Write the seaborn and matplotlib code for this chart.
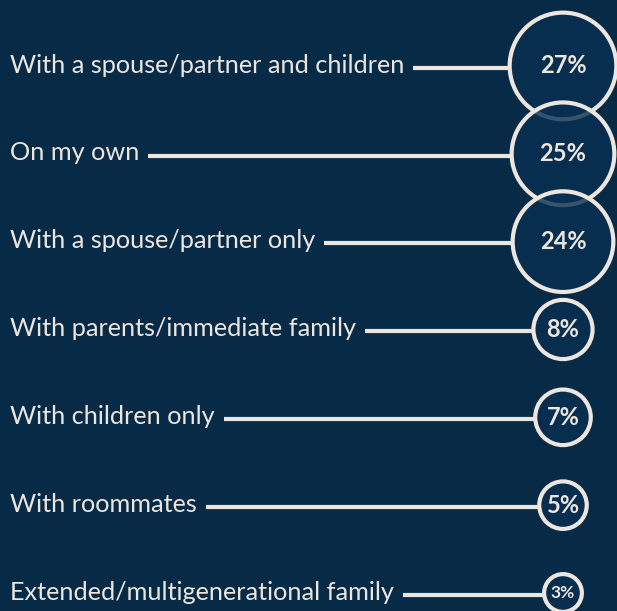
import numpy as np
import matplotlib
matplotlib.use("Agg")
import matplotlib.pyplot as plt
import seaborn as sns
import pandas as pd

# ── data ──────────────────────────────────────────────────────────────────────
categories = [
    "With a spouse/partner and children",
    "On my own",
    "With a spouse/partner only",
    "With parents/immediate family",
    "With children only",
    "With roommates",
    "Extended/multigenerational family",
]
shares = [27, 25, 24, 8, 7, 5, 3]

BG = "#072b47"
FILL = (0.035, 0.19, 0.32, 0.80)
CREAM = "#ece6df"
SIZES = (740, 5900)
NORM = (3, 27)
EDGE_LW = 3.0

sns.set_theme(style="white")
plt.rcParams.update({
    "figure.facecolor": BG,
    "axes.facecolor": BG,
    "font.family": ["Lato", "DejaVu Sans"],
})

df = pd.DataFrame({"label": categories, "share": shares, "row": range(len(shares))})
CX = 563  # circle column (pixel-ish x units)
df["cx"] = CX

fig = plt.figure(figsize=(6.17, 6.11), dpi=100)
ax = fig.add_axes([0, 0, 1, 1])
ax.set_xlim(0, 617)
ax.set_ylim(6.205, -0.751)
ax.axis("off")

# circles, area ~ share
sns.scatterplot(data=df, x="cx", y="row", size="share",
                sizes=SIZES, size_norm=NORM, legend=False,
                facecolor=FILL, edgecolor=CREAM, linewidth=EDGE_LW,
                ax=ax, zorder=3)

# labels + connector lines
fig.canvas.draw()
rend = fig.canvas.get_renderer()
inv = ax.transData.inverted()
for _, r in df.iterrows():
    t = ax.text(10, r["row"] - 0.01, r["label"], color=CREAM, fontsize=18.2,
                va="center", ha="left", zorder=4)
    bb = t.get_window_extent(renderer=rend)
    x0 = inv.transform((bb.x1, 0))[0] + 9
    # stop the line at the circle's outer edge (x units are pixels here)
    s = SIZES[0] + (r["share"] - NORM[0]) / (NORM[1] - NORM[0]) * (SIZES[1] - SIZES[0])
    rad = np.sqrt(s) / 2 * 100 / 72
    ax.hlines(r["row"] + 0.02, x0, r["cx"] - rad, color=CREAM, lw=3.0, zorder=2)
    fs = 17 if r["share"] > 3 else 12.5
    ax.text(r["cx"], r["row"], f"{r['share']}%", color=CREAM, fontsize=fs,
            fontweight="bold", ha="center", va="center", zorder=5)

fig.savefig("out.png", dpi=100, facecolor=BG)
